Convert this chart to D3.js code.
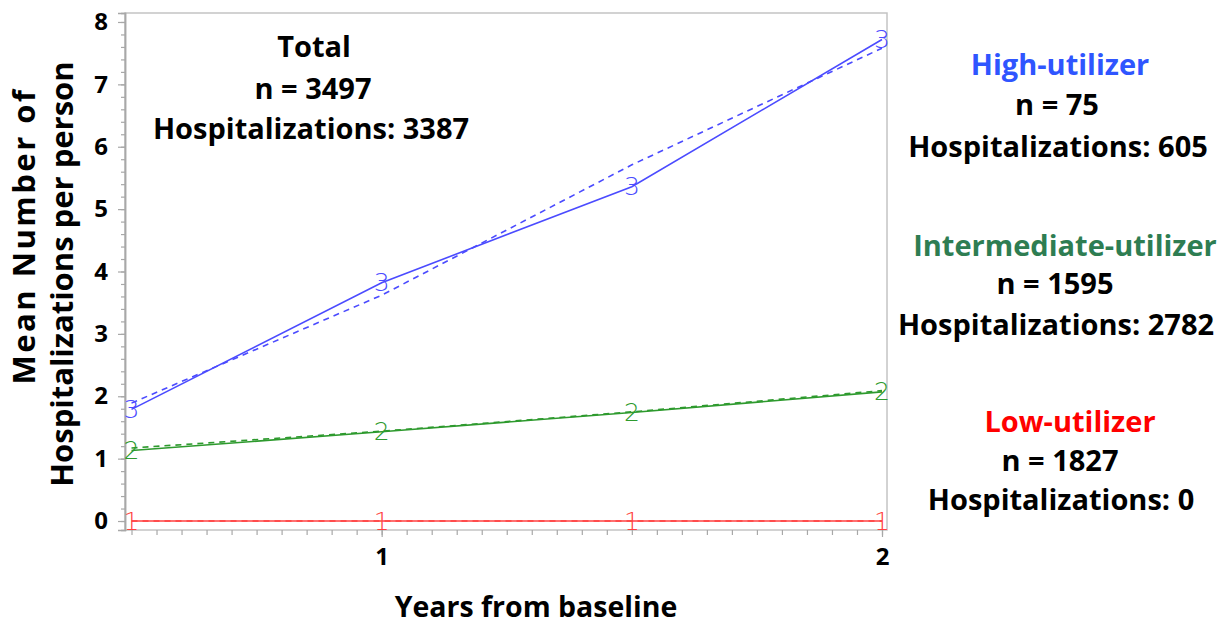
<!DOCTYPE html>
<html>
<head>
<meta charset="utf-8">
<script src="https://cdn.jsdelivr.net/npm/d3@7"></script>
<style>
  body { margin: 0; background: #fff; }
  svg text { font-family: "Open Sans", Lato, sans-serif; font-weight: bold; }
  svg text.marker { font-family: "DejaVu Sans", sans-serif; font-weight: 200; }
</style>
</head>
<body>
<div id="chart-area"></div>
<script>
// time points (years from baseline)
let years = [0.5, 1, 1.5, 2];

// observed means (solid) and fitted (dashed) per group
let highObserved = [1.79, 3.82, 5.36, 7.72];
let highFitted = [1.89, 3.62, 5.71, 7.58];
let interObserved = [1.13, 1.43, 1.74, 2.07];
let interFitted = [1.17, 1.44, 1.75, 2.09];
let lowObserved = [0, 0, 0, 0];
let lowFitted = [0, 0, 0, 0];

let groupNames = ["High-utilizer", "Intermediate-utilizer", "Low-utilizer"];
let groupMarkers = ["3", "2", "1"];
let groupN = [75, 1595, 1827];
let groupHosp = [605, 2782, 0];
let totalN = 3497, totalHosp = 3387;

let yTicks = [0, 1, 2, 3, 4, 5, 6, 7, 8];
let xTickLabels = [1, 2];

let width = 1228, height = 626;
let margin = {top: 13, right: 341, bottom: 96, left: 125};

let svg = d3.select("#chart-area").append("svg")
  .attr("width", width)
  .attr("height", height);

let x = d3.scaleLinear()
  .domain([0.487, 2.01])
  .range([margin.left, width - margin.right]);

let y = d3.scaleLinear()
  .domain([-0.144, 8.144])
  .range([height - margin.bottom, margin.top]);

let tickColor = "#a8a8a8";

// frame
svg.append("rect")
  .attr("x", margin.left)
  .attr("y", margin.top)
  .attr("width", width - margin.right - margin.left)
  .attr("height", height - margin.bottom - margin.top)
  .attr("fill", "none")
  .attr("stroke", "#c4c4c4")
  .attr("stroke-width", 1.5);

// y minor ticks
let yMinor = svg.append("g")
  .attr("transform", "translate(" + margin.left + ",0)")
  .call(d3.axisLeft(y).tickValues(d3.range(0, 8.01, 0.2)).tickSize(4).tickFormat(""));
// y major ticks
let yMajor = svg.append("g")
  .attr("transform", "translate(" + margin.left + ",0)")
  .call(d3.axisLeft(y).tickValues(yTicks).tickSize(7).tickPadding(10));

// x minor ticks
let xMinor = svg.append("g")
  .attr("transform", "translate(0," + (height - margin.bottom) + ")")
  .call(d3.axisBottom(x).tickValues(d3.range(0.5, 2.001, 0.05)).tickSize(5).tickFormat(""));
// x major ticks
let xMajor = svg.append("g")
  .attr("transform", "translate(0," + (height - margin.bottom) + ")")
  .call(d3.axisBottom(x).tickValues(xTickLabels).tickSize(7).tickPadding(11).tickFormat(d3.format("d")));

[yMinor, yMajor, xMinor, xMajor].forEach(g => {
  g.select(".domain").attr("stroke", tickColor).attr("stroke-width", 1.5);
  g.selectAll(".tick line").attr("stroke", tickColor).attr("stroke-width", 1.2);
  g.selectAll(".tick text").attr("fill", "#000").style("font-size", "24px");
});
xMinor.select(".domain").remove();
xMajor.select(".domain").remove();

// series
let series = [
  {obs: highObserved, fit: highFitted, color: "#4b4bff", marker: groupMarkers[0]},
  {obs: interObserved, fit: interFitted, color: "#2e9a2e", marker: groupMarkers[1]},
  {obs: lowObserved, fit: lowFitted, color: "#ff4040", marker: groupMarkers[2]}
];

let line = d3.line()
  .x(d => x(d[0]))
  .y(d => y(d[1]));

series.forEach(s => {
  let obs = years.map((t, i) => [t, s.obs[i]]);
  let fit = years.map((t, i) => [t, s.fit[i]]);

  svg.append("path")
    .datum(fit)
    .attr("d", line)
    .attr("fill", "none")
    .attr("stroke", s.color)
    .attr("stroke-width", 1.6)
    .attr("stroke-dasharray", "6,5");

  svg.append("path")
    .datum(obs)
    .attr("d", line)
    .attr("fill", "none")
    .attr("stroke", s.color)
    .attr("stroke-width", 1.6);

  svg.selectAll(null)
    .data(obs)
    .enter()
    .append("text")
    .attr("class", "marker")
    .attr("x", d => x(d[0]))
    .attr("y", d => y(d[1]))
    .attr("text-anchor", "middle")
    .attr("dominant-baseline", "central")
    .attr("fill", s.color)
    .style("font-size", "25px")
    .text(s.marker);
});

// axis titles
svg.append("text")
  .attr("transform", "translate(35,236) rotate(-90)")
  .attr("text-anchor", "middle")
  .style("font-size", "31px")
  .style("letter-spacing", "2.5px")
  .text("Mean Number of");
svg.append("text")
  .attr("transform", "translate(73,274) rotate(-90)")
  .attr("text-anchor", "middle")
  .style("font-size", "31px")
  .text("Hospitalizations per person");

svg.append("text")
  .attr("x", 536)
  .attr("y", 617)
  .attr("text-anchor", "middle")
  .style("font-size", "28.5px")
  .text("Years from baseline");

// annotation blocks
function block(lines) {
  lines.forEach(l => {
    svg.append("text")
      .attr("x", l.x)
      .attr("y", l.y)
      .attr("text-anchor", "middle")
      .attr("fill", l.color || "#000")
      .style("font-size", "29px")
      .text(l.text);
  });
}

block([
  {text: "Total", x: 314, y: 57},
  {text: "n = " + totalN, x: 313, y: 99},
  {text: "Hospitalizations: " + totalHosp, x: 311, y: 139}
]);

block([
  {text: groupNames[0], x: 1060, y: 75, color: "#2f55ff"},
  {text: "n = " + groupN[0], x: 1057, y: 115},
  {text: "Hospitalizations: " + groupHosp[0], x: 1058, y: 157}
]);

block([
  {text: groupNames[1], x: 1065, y: 256, color: "#2e7d52"},
  {text: "n = " + groupN[1], x: 1055, y: 294},
  {text: "Hospitalizations: " + groupHosp[1], x: 1056, y: 335}
]);

block([
  {text: groupNames[2], x: 1070, y: 432, color: "#ff0000"},
  {text: "n = " + groupN[2], x: 1060, y: 471},
  {text: "Hospitalizations: " + groupHosp[2], x: 1061, y: 510}
]);
</script>
</body>
</html>
